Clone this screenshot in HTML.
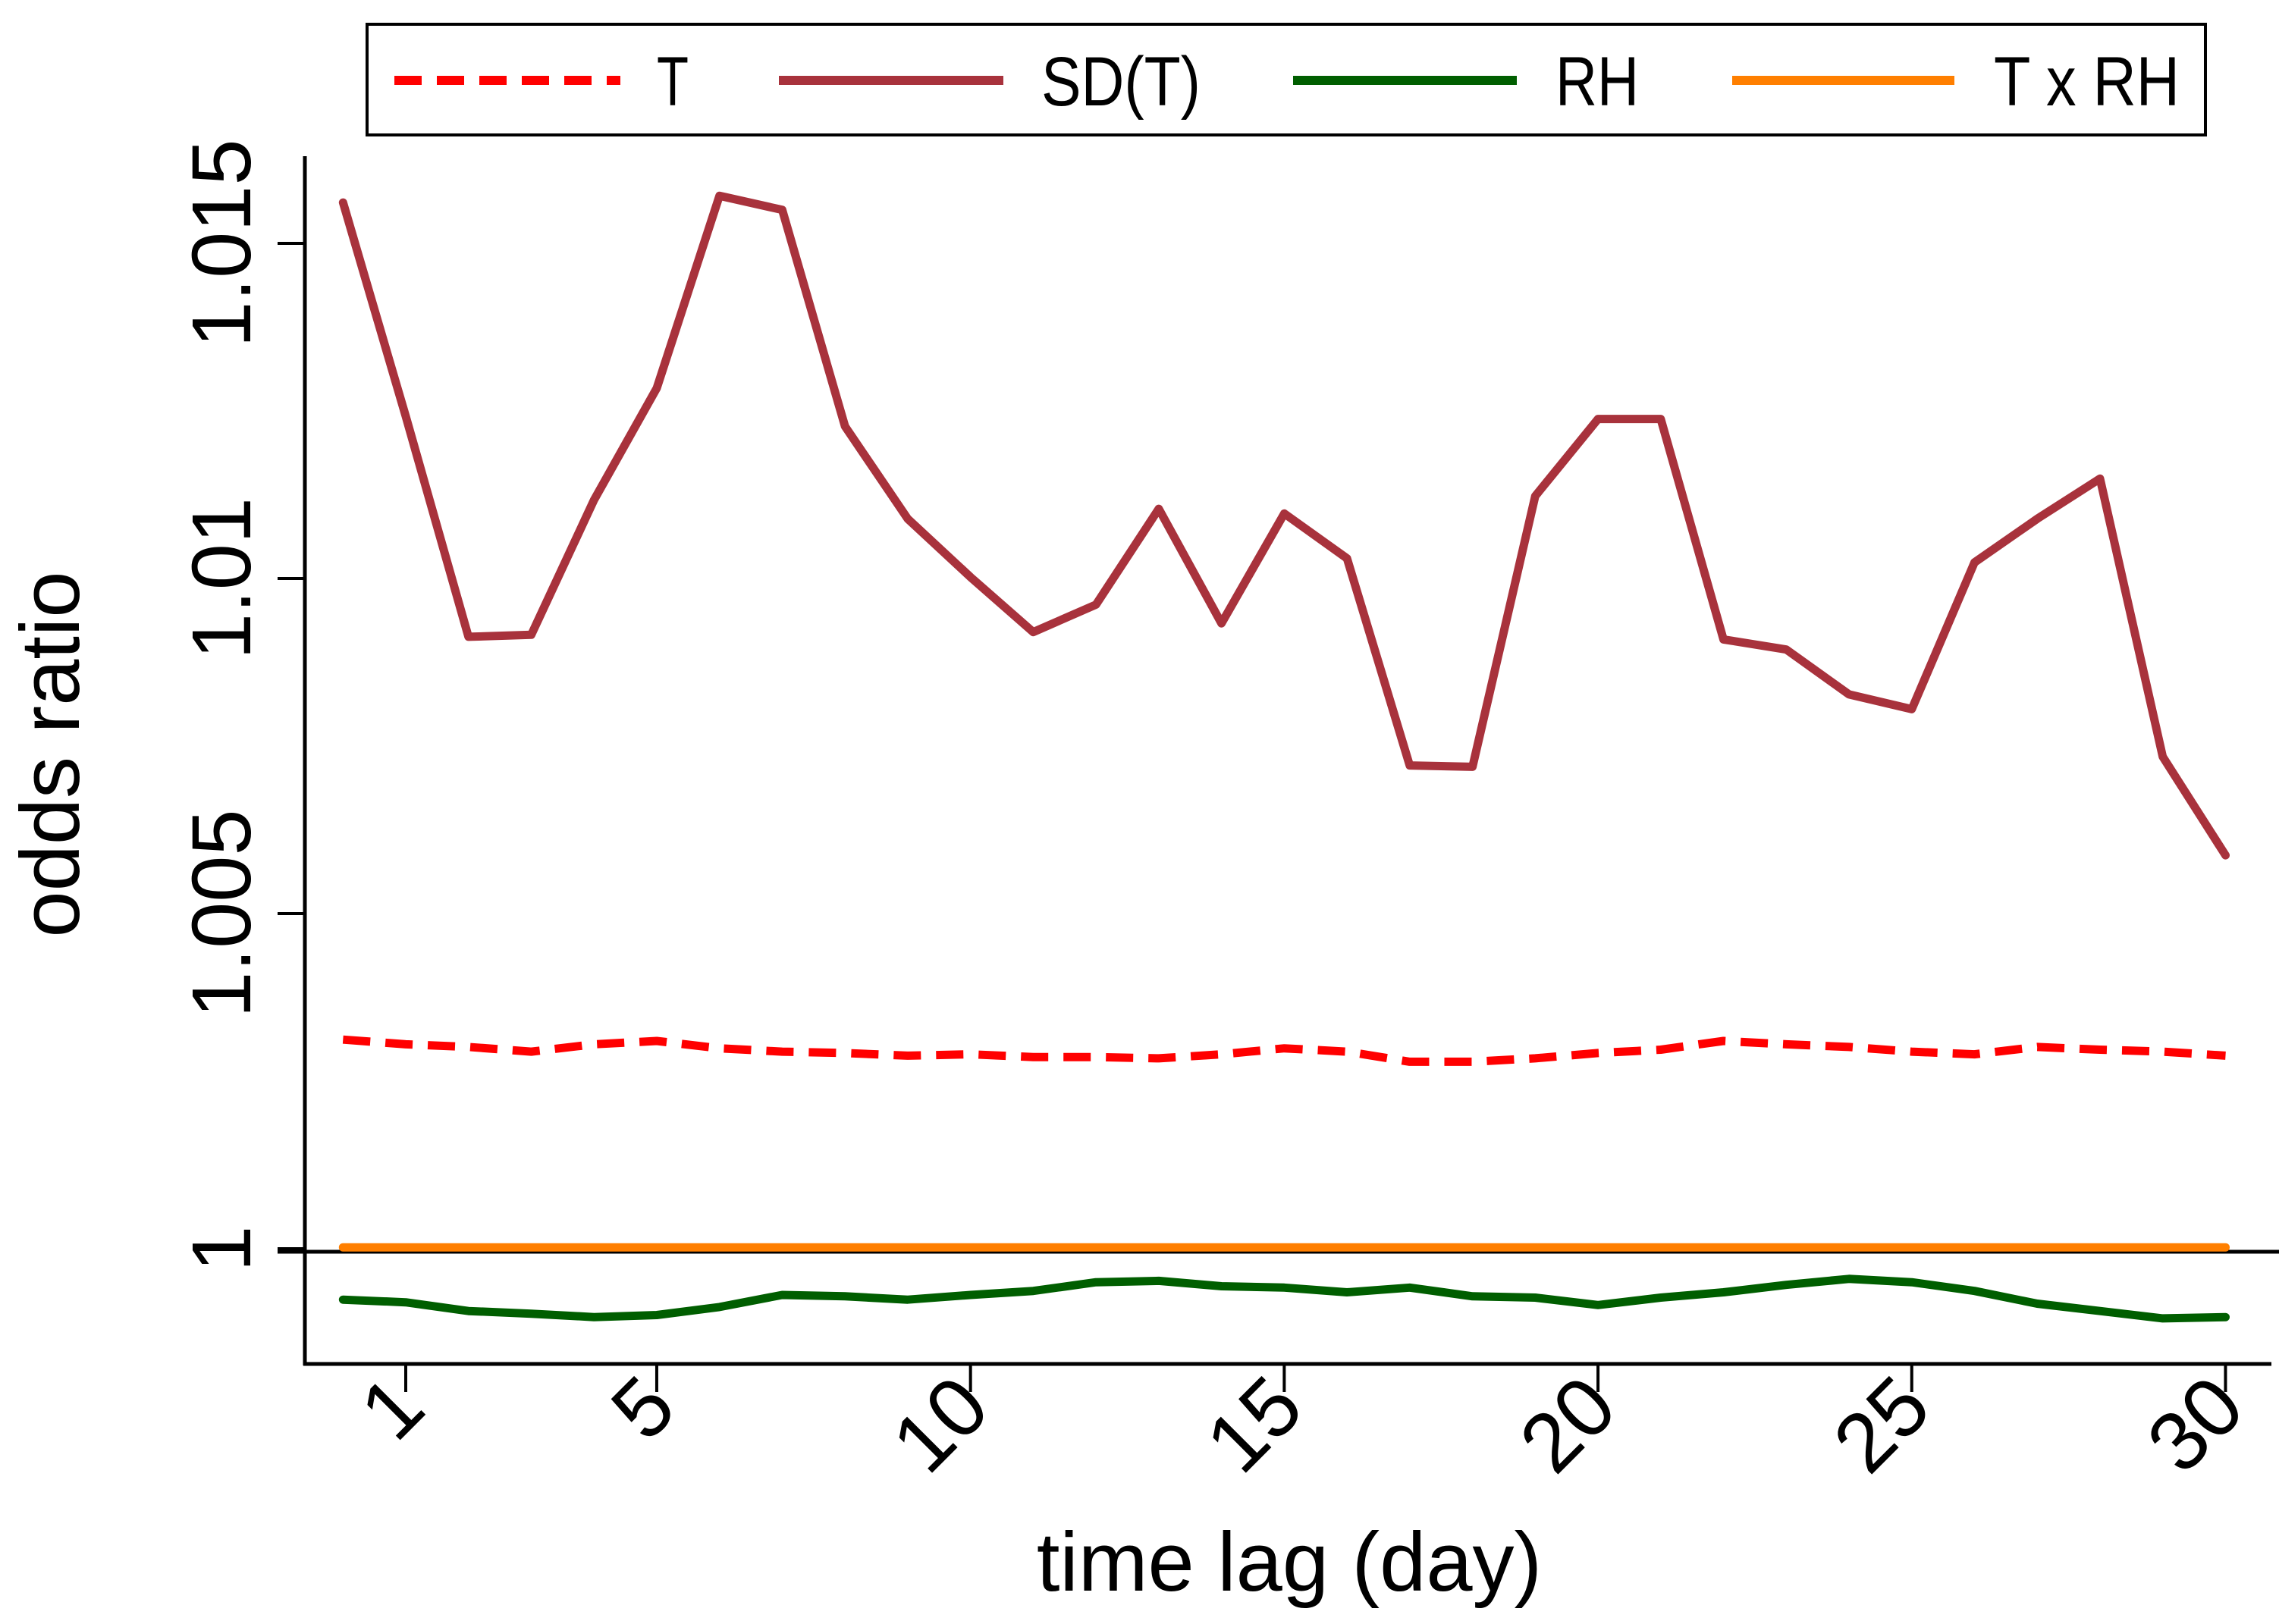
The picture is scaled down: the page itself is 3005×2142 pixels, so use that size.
<!DOCTYPE html>
<html><head><meta charset="utf-8"><style>
html,body{margin:0;padding:0;background:#fff;}
svg{display:block;font-family:"Liberation Sans",sans-serif;}
</style></head><body>
<svg id="chart" width="3005" height="2142" viewBox="0 0 3005 2142" xmlns="http://www.w3.org/2000/svg">
<rect width="3005" height="2142" fill="#fff"/>
<g id="legend">
<rect x="484" y="32" width="2424" height="146" fill="#fff" stroke="#000" stroke-width="4"/>
<g><line x1="520" y1="106" x2="818" y2="106" stroke="#ff0000" stroke-width="12" stroke-dasharray="36,20"/><text x="866" y="139" font-size="92" textLength="42" lengthAdjust="spacingAndGlyphs">T</text></g>
<g><line x1="1027" y1="106" x2="1323" y2="106" stroke="#a8323c" stroke-width="12"/><text x="1373" y="139" font-size="92" textLength="210" lengthAdjust="spacingAndGlyphs">SD(T)</text></g>
<g><line x1="1705" y1="106" x2="2000" y2="106" stroke="#005e00" stroke-width="12"/><text x="2051" y="139" font-size="92" textLength="110" lengthAdjust="spacingAndGlyphs">RH</text></g>
<g><line x1="2284" y1="106" x2="2577" y2="106" stroke="#ff7f00" stroke-width="12"/><text x="2629" y="139" font-size="92" textLength="245" lengthAdjust="spacingAndGlyphs">T x RH</text></g>
</g>
<g id="axes"></g>
<g id="series"></g>
</svg>
<script>
const lags = [0,1,2,3,4,5,6,7,8,9,10,11,12,13,14,15,16,17,18,19,20,21,22,23,24,25,26,27,28,29,30];
const sdT = [1.01561,1.01242,1.00913,1.00916,1.01117,1.01284,1.01571,1.0155,1.01227,1.01089,1.01002,1.0092,1.00961,1.01104,1.00933,1.01097,1.0103,1.00721,1.00719,1.01123,1.01238,1.01238,1.00909,1.00894,1.00827,1.00805,1.01024,1.01089,1.01149,1.00734,1.00587];
const tVals = [1.00312,1.00305,1.00301,1.00294,1.00305,1.0031,1.00299,1.00294,1.00292,1.00288,1.0029,1.00286,1.00286,1.00284,1.0029,1.00299,1.00294,1.00279,1.00279,1.00284,1.00292,1.00297,1.0031,1.00305,1.00301,1.00294,1.0029,1.00301,1.00297,1.00294,1.00288];
const rh = [0.99924,0.9992,0.99907,0.99903,0.99898,0.99901,0.99913,0.99931,0.99929,0.99924,0.99931,0.99937,0.9995,0.99952,0.99944,0.99942,0.99935,0.99942,0.99929,0.99927,0.99916,0.99927,0.99935,0.99946,0.99955,0.9995,0.99937,0.99918,0.99907,0.99896,0.99898];
const txrh = [1.00002,1.00002,1.00002,1.00002,1.00002,1.00002,1.00002,1.00002,1.00002,1.00002,1.00002,1.00002,1.00002,1.00002,1.00002,1.00002,1.00002,1.00002,1.00002,1.00002,1.00002,1.00002,1.00002,1.00002,1.00002,1.00002,1.00002,1.00002,1.00002,1.00002,1.00002];
const xTicks = [1,5,10,15,20,25,30];
const yTicks = [1,1.005,1.01,1.015];
const yTickLabels = ["1","1.005","1.01","1.015"];

const NS = "http://www.w3.org/2000/svg";
function xs(v){ return 535 + (v-1)*82.74; }
function ys(v){ return 1647 - (v-1)/0.005*442; }
function mk(tag, attrs, parent){
  const e = document.createElementNS(NS, tag);
  for (const k in attrs) e.setAttribute(k, attrs[k]);
  parent.appendChild(e);
  return e;
}
const axes = document.getElementById('axes');
const series = document.getElementById('series');

let ya = mk('line',{x1:402,y1:206,x2:402,y2:1801,stroke:'#000','stroke-width':5},axes);


let xa = mk('line',{x1:400,y1:1799,x2:2995,y2:1799,stroke:'#000','stroke-width':5},axes);


let ref = mk('line',{x1:366,y1:ys(1)+4,x2:3005,y2:ys(1)+4,stroke:'#000','stroke-width':5},axes);



yTicks.forEach((v,i)=>{
  const y = ys(v);
  const t = mk('line',{x1:366,y1:y,x2:402,y2:y,stroke:'#000','stroke-width':4},axes);
  
  
  const lx = 330;
  const tx = mk('text',{x:lx,y:y,'font-size':110,'text-anchor':'middle',transform:`rotate(-90 ${lx} ${y})`},axes);
  tx.textContent = yTickLabels[i];
  
  
});
xTicks.forEach(v=>{
  const x = xs(v);
  const t = mk('line',{x1:x,y1:1799,x2:x,y2:1836,stroke:'#000','stroke-width':4},axes);
  
  
  const tx = mk('text',{x:x+30,y:1862,'font-size':110,'text-anchor':'end',transform:`rotate(-45 ${x+30} 1862)`},axes);
  tx.textContent = String(v);
  
  
});
const yt = mk('text',{x:104,y:995,'font-size':110,'text-anchor':'middle',transform:'rotate(-90 104 995)'},axes);
yt.textContent = 'odds ratio';


const xt = mk('text',{x:1700,y:2098,'font-size':110,'text-anchor':'middle'},axes);
xt.textContent = 'time lag (day)';



function drawLine(vals, color, dash, name){
  const pts = vals.map((v,i)=>xs(lags[i]).toFixed(1)+','+ys(v).toFixed(1)).join(' ');
  const a = {points:pts,fill:'none',stroke:color,'stroke-width':11,'stroke-linejoin':'round','stroke-linecap':dash?'butt':'round'};
  if (dash) a['stroke-dasharray'] = dash;
  const p = mk('polyline',a,series);
  
  
}
drawLine(txrh,'#ff7f00',null,'series-t-x-rh');
drawLine(rh,'#005e00',null,'series-rh');
drawLine(tVals,'#ff0000','36,20','series-t');
drawLine(sdT,'#a8323c',null,'series-sd-t');
</script>
</body></html>
